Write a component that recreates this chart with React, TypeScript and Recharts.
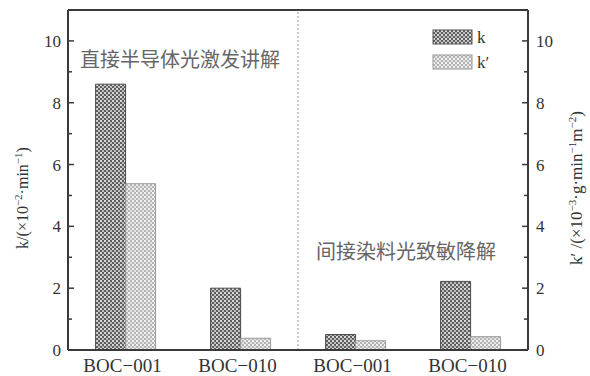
import React from 'react';
import { BarChart, Bar, XAxis, YAxis, ReferenceLine } from 'recharts';

const categories = ['BOC−001', 'BOC−010', 'BOC−001', 'BOC−010'];
const kValues = [8.6, 2.0, 0.5, 2.22];
const kPrimeValues = [5.38, 0.38, 0.3, 0.43];
const yTicks = [0, 1, 2, 3, 4, 5, 6, 7, 8, 9, 10];

const data = categories.map((name, i) => ({
  idx: i,
  name,
  k: kValues[i],
  kp: kPrimeValues[i],
}));

const SERIF = '"Liberation Serif", "Times New Roman", serif';
const CJK = '"Noto Sans CJK SC", sans-serif';
const AXIS = '#3a3a3a';

const LeftTick = ({ x, y, payload }: any) => {
  const major = payload.value % 2 === 0;
  return (
    <g>
      <line x1={x} x2={x + (major ? 6 : 4)} y1={y} y2={y} stroke={AXIS} strokeWidth={1.5} />
      {major && (
        <text x={x - 7} y={y} dy={6} textAnchor="end" fontFamily={SERIF} fontSize={17} fill="#333">
          {payload.value}
        </text>
      )}
    </g>
  );
};

const RightTick = ({ x, y, payload }: any) => {
  const major = payload.value % 2 === 0;
  return (
    <g>
      <line x1={x} x2={x - (major ? 6 : 4)} y1={y} y2={y} stroke={AXIS} strokeWidth={1.5} />
      {major && (
        <text x={x + 8} y={y} dy={6} textAnchor="start" fontFamily={SERIF} fontSize={17} fill="#333">
          {payload.value}
        </text>
      )}
    </g>
  );
};

const BottomTick = ({ x, y, payload }: any) => (
  <text x={x - 3} y={y} dy={14} textAnchor="middle" fontFamily={SERIF} fontSize={19} fill="#333">
    {categories[payload.value] ?? payload.value}
  </text>
);

// legend drawn straight into the chart svg
const LegendBox = () => (
  <g transform="translate(433,30)">
    <rect x={0} y={0} width={39} height={14} fill="url(#patK)" stroke="#555" />
    <text x={44} y={13} fontFamily={SERIF} fontSize={17} fill="#333">k</text>
    <rect x={0} y={25} width={39} height={14} fill="url(#patKp)" stroke="#999" />
    <text x={44} y={38} fontFamily={SERIF} fontSize={17} fill="#333">k′</text>
  </g>
);

export default function App() {
  return (
    <div style={{ position: 'absolute', left: 0, top: 0 }}>
      <BarChart
        width={590}
        height={376}
        data={data}
        margin={{ top: 10, right: 0, bottom: 0, left: 0 }}
        barCategoryGap="24%"
        barGap={0}
      >
        <defs>
          <pattern id="patK" width="4" height="4" patternUnits="userSpaceOnUse">
            <rect width="4" height="4" fill="#5e5e5e" />
            <rect x="0" y="0" width="2" height="2" fill="#d8d8d8" />
            <rect x="2" y="2" width="2" height="2" fill="#bdbdbd" />
          </pattern>
          <pattern id="patKp" width="4" height="4" patternUnits="userSpaceOnUse">
            <rect width="4" height="4" fill="#b4b4b4" />
            <rect x="0" y="0" width="2" height="2" fill="#f2f2f2" />
            <rect x="2" y="2" width="2" height="2" fill="#e4e4e4" />
          </pattern>
        </defs>
        <XAxis
          dataKey="idx"
          type="category"
          height={26}
          axisLine={{ stroke: AXIS, strokeWidth: 2 }}
          tickLine={false}
          tick={<BottomTick />}
          interval={0}
        />
        <XAxis xAxisId="num" dataKey="idx" type="number" domain={[0, 4]} allowDataOverflow hide />
        <YAxis
          yAxisId="left"
          domain={[0, 11]}
          ticks={yTicks}
          interval={0}
          width={68}
          tickSize={0}
          tickMargin={0}
          axisLine={{ stroke: AXIS, strokeWidth: 2 }}
          tickLine={false}
          tick={<LeftTick />}
          label={{
            content: () => (
              <text transform="translate(28,198) rotate(-90)" textAnchor="middle" fontFamily={SERIF} fontSize={16} fill="#333">
                k/(×10<tspan dy={-6} fontSize={11}>−2</tspan>
                <tspan dy={6}>·min</tspan>
                <tspan dy={-6} fontSize={11}>−1</tspan>
                <tspan dy={6}>)</tspan>
              </text>
            ),
          }}
        />
        <YAxis
          yAxisId="right"
          orientation="right"
          domain={[0, 11]}
          ticks={yTicks}
          interval={0}
          width={62}
          tickSize={0}
          tickMargin={0}
          axisLine={{ stroke: AXIS, strokeWidth: 2 }}
          tickLine={false}
          tick={<RightTick />}
          label={{
            content: () => (
              <text transform="translate(582,188) rotate(-90)" textAnchor="middle" fontFamily={SERIF} fontSize={17} fill="#333">
                k′ /(×10<tspan dy={-6} fontSize={11}>−3</tspan>
                <tspan dy={6}>·g·min</tspan>
                <tspan dy={-6} fontSize={11}>−1</tspan>
                <tspan dy={6}>m</tspan>
                <tspan dy={-6} fontSize={11}>−2</tspan>
                <tspan dy={6}>)</tspan>
              </text>
            ),
          }}
        />
        <ReferenceLine yAxisId="left" y={11} stroke={AXIS} strokeWidth={2} />
        <ReferenceLine xAxisId="num" yAxisId="left" x={2} stroke="#999" strokeDasharray="2 2" />
        <ReferenceLine
          yAxisId="left"
          y={9.5}
          stroke="none"
          label={{
            content: () => (
              <g>
                <text x={80} y={67} fontFamily={CJK} fontSize={20} fill="#666">直接半导体光激发讲解</text>
                <text x={316} y={259} fontFamily={CJK} fontSize={20} fill="#666">间接染料光致敏降解</text>
                <LegendBox />
              </g>
            ),
          }}
        />
        <Bar dataKey="k" yAxisId="left" fill="url(#patK)" stroke="#4a4a4a" strokeWidth={1} isAnimationActive={false} />
        <Bar dataKey="kp" yAxisId="right" fill="url(#patKp)" stroke="#9a9a9a" strokeWidth={1} isAnimationActive={false} />
      </BarChart>
    </div>
  );
}
